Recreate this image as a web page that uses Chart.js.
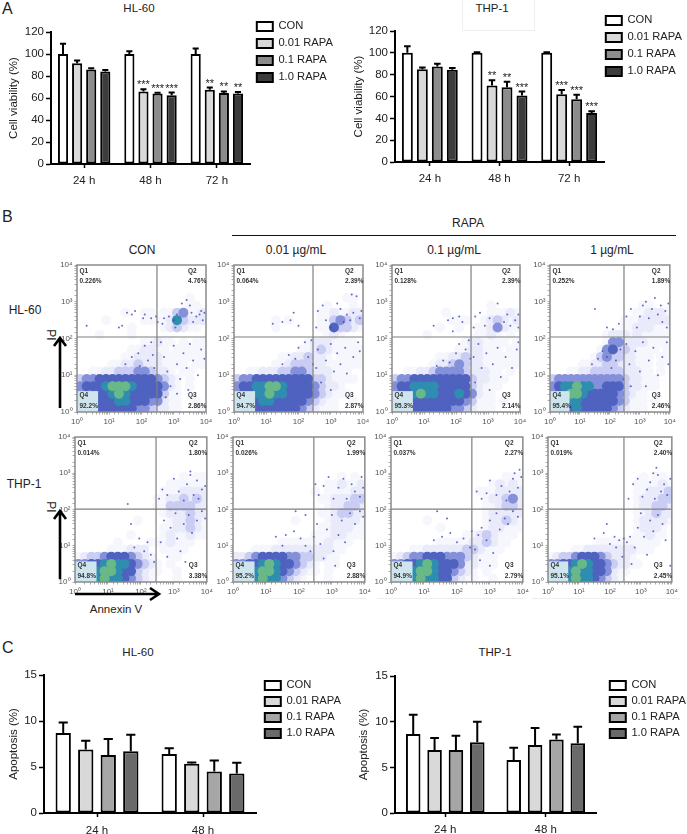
<!DOCTYPE html>
<html>
<head>
<meta charset="utf-8">
<title>RAPA viability and apoptosis</title>
<script src="https://cdn.jsdelivr.net/npm/chart.js@4"></script>
<style>
  body { margin: 0; background: #fff; font-family: "Liberation Sans", Arial, sans-serif; color: #222; }
  #page { position: relative; width: 687px; height: 834px; overflow: hidden; }
  canvas { position: absolute; filter: blur(0.3px); }
  canvas.flow { filter: blur(0.55px); }
  .t { position: absolute; white-space: nowrap; transform: translate(-50%, -50%); font-size: 12px; line-height: 1; }
  .panel { font-size: 16px; transform: none; }
  .faint { position: absolute; background: #eee; }
</style>
</head>
<body>
<div id="page">
  <div class="faint" style="left:462px;top:0;width:1px;height:31px"></div>
  <div class="faint" style="left:534px;top:0;width:1px;height:31px"></div>
  <div class="faint" style="left:462px;top:30px;width:73px;height:1px"></div>
  <div class="faint" style="left:270px;top:598px;width:96px;height:1px"></div>
  <div class="faint" style="left:377px;top:598px;width:146px;height:1px"></div>
  <div class="faint" style="left:532px;top:598px;width:148px;height:1px"></div>

  <div class="t panel" style="left:2px;top:1px">A</div>
  <div class="t panel" style="left:2px;top:209px">B</div>
  <div class="t panel" style="left:2px;top:640px">C</div>

  <div class="t" style="left:139px;top:9px;font-size:11.5px">HL-60</div>
  <div class="t" style="left:492px;top:9px;font-size:11.5px">THP-1</div>
  <div class="t" style="left:138px;top:653px;font-size:11.5px">HL-60</div>
  <div class="t" style="left:495px;top:653px;font-size:11.5px">THP-1</div>

  <div class="t" style="left:468px;top:223px">RAPA</div>
  <div style="position:absolute;left:232px;top:235px;width:444px;height:1px;background:#111"></div>
  <div class="t" style="left:142px;top:250px">CON</div>
  <div class="t" style="left:296px;top:250px">0.01 µg/mL</div>
  <div class="t" style="left:454px;top:250px">0.1 µg/mL</div>
  <div class="t" style="left:612px;top:250px">1 µg/mL</div>
  <div class="t" style="left:25px;top:310px">HL-60</div>
  <div class="t" style="left:24px;top:484px">THP-1</div>
  <div class="t" style="left:51px;top:335px;transform:translate(-50%,-50%) rotate(90deg)">PI</div>
  <div class="t" style="left:51px;top:507px;transform:translate(-50%,-50%) rotate(90deg)">PI</div>
  <div class="t" style="left:116px;top:610px;font-size:11.5px">Annexin V</div>

  <canvas id="viabHL" width="343" height="174" style="left:2px;top:16px"></canvas>
  <canvas id="viabTHP" width="335" height="179" style="left:352px;top:10px"></canvas>
  <canvas id="apoHL" width="340" height="175" style="left:5px;top:659px"></canvas>
  <canvas id="apoTHP" width="333" height="175" style="left:354px;top:660px"></canvas>

  <canvas class="flow" id="f0" width="170" height="175" style="left:47px;top:257px"></canvas>
  <canvas class="flow" id="f1" width="170" height="175" style="left:204px;top:257px"></canvas>
  <canvas class="flow" id="f2" width="170" height="175" style="left:362px;top:257px"></canvas>
  <canvas class="flow" id="f3" width="158" height="175" style="left:520px;top:257px"></canvas>
  <canvas class="flow" id="f4" width="170" height="173" style="left:45px;top:429px"></canvas>
  <canvas class="flow" id="f5" width="170" height="173" style="left:203px;top:429px"></canvas>
  <canvas class="flow" id="f6" width="170" height="173" style="left:361px;top:429px"></canvas>
  <canvas class="flow" id="f7" width="162" height="173" style="left:518px;top:429px"></canvas>

  <svg width="687" height="834" style="position:absolute;left:0;top:0;pointer-events:none" fill="none" stroke="#000" stroke-width="2.6">
    <path d="M60 408V338M54 346L60 338L66 346"/>
    <path d="M60 579V511M54 519L60 511L66 519"/>
    <path d="M75 594H158M150 588L159 594L150 600"/>
  </svg>
</div>

<script>
// series names and group labels
const seriesNames = ['CON', '0.01 RAPA', '0.1 RAPA', '1.0 RAPA'];
const hoursA = ['24 h', '48 h', '72 h'];
const hoursC = ['24 h', '48 h'];
const fillsA = ['#ffffff', '#d9d9d9', '#8c8c8c', '#3c3c3c'];
const fillsC = ['#ffffff', '#d9d9d9', '#a6a6a6', '#6a6a6a'];

// panel A, one row per series, one column per time point
const viabilityHL = [[100, 100, 100], [91.5, 66, 67.5], [86, 64, 64.5], [84, 62.5, 64]];
const viabilityHLTop = [[109.4, 102.5, 105], [94, 68, 69.5], [87, 64.8, 66], [85.5, 65, 65.5]];
const viabilityHLStars = [['', '', ''], ['', '***', '**'], ['', '***', '**'], ['', '***', '**']];
const viabilityTHP = [[100, 100, 100], [85, 70, 62], [87.5, 68.5, 57.5], [84.5, 61, 45]];
const viabilityTHPTop = [[106, 100.5, 100.5], [86.5, 75, 66], [90, 73.5, 61.5], [86, 64.5, 46.5]];
const viabilityTHPStars = [['', '', ''], ['', '**', '***'], ['', '**', '***'], ['', '***', '***']];

// panel C
const apoptosisHL = [[8.7, 6.4], [6.9, 5.35], [6.3, 4.5], [6.7, 4.3]];
const apoptosisHLTop = [[9.85, 7.05], [7.85, 5.5], [8.05, 5.7], [8.5, 5.45]];
const apoptosisTHP = [[8.65, 5.8], [6.9, 7.45], [6.9, 8.05], [7.75, 7.65]];
const apoptosisTHPTop = [[10.75, 7.15], [8.2, 9.3], [8.45, 8.6], [10, 9.45]];

// panel B, quadrant percentages Q1 Q2 Q3 Q4
const quadrants = [
  ['0.226%', '4.76%', '2.86%', '92.2%'],
  ['0.064%', '2.39%', '2.87%', '94.7%'],
  ['0.128%', '2.39%', '2.14%', '95.3%'],
  ['0.252%', '1.89%', '2.46%', '95.4%'],
  ['0.014%', '1.80%', '3.38%', '94.8%'],
  ['0.026%', '1.99%', '2.88%', '95.2%'],
  ['0.037%', '2.27%', '2.79%', '94.9%'],
  ['0.019%', '2.40%', '2.45%', '95.1%']
];
// gate position on each flow panel (Annexin V, PI)
const gateX = [302, 282, 295, 295, 288, 284, 284, 284];
const gateY = [110, 110, 110, 110, 103, 103, 103, 103];
const q4BoxCorner = [4.5, 3.7];
const decadeLabels = { 1: '10⁰', 10: '10¹', 100: '10²', 1000: '10³', 10000: '10⁴' };

// density read per 0.2 decade cell, top row first, 0 empty to 7 hottest
const emptyRows = ['00000000000000000000', '00000000000000000000', '00000000000000000000', '00000000000000000000'];
const density0 = emptyRows.concat([
  '00000000000000000100', '00000000000000000110', '00000001001101134112', '00001000001111263222',
  '00000000100001232110', '00010000100000000000', '00000000001121101011', '00000000112211011111',
  '00000001122221111111', '00000112232221111011', '00112233344322101100', '34455555555543210100',
  '45556777655554210100', '44455676555553110000', '44455566555442110010', '44555555544322110001']);
const density1 = emptyRows.concat([
  '00000000000000000110', '00000000000000100010', '00000000000001121122', '00000010100001134323',
  '00000010000001153321', '00000000000000121000', '00000000000122211110', '00000000001123211111',
  '00000001122322101111', '00000011233322111111', '00112223344322211100', '34455555555533211110',
  '45566776555543221000', '45566766555543211100', '44556655555432110010', '44555555554321110000']);
const density2 = emptyRows.concat([
  '00000000000000000000', '00000000000000010000', '00000000100000011121', '00000000011100123212',
  '00000001001001124211', '00000100000001121010', '00000000000122111101', '00000000001122111011',
  '00000001122322111111', '00000012234322111111', '00112234444322211010', '34455555555532211100',
  '45566665555532111000', '45567665556542110000', '45555555555431110100', '44555555544321110000']);
const density3 = emptyRows.concat([
  '00000000000000000000', '00000000000000011000', '00000000000000112221', '00000000000011122222',
  '00000000000011222111', '00000000012221211111', '00000000014422221111', '00000000145332111101',
  '00000001343322111011', '00000112233222111010', '00011223333322211010', '34444444444432211100',
  '45667664455532211100', '45677655555432110000', '45566555555431110100', '44556555554321110000']);
const density4 = emptyRows.concat([
  '00000000000000000000', '00000000000000001011', '00000000000000111111', '00000000000001112222',
  '00000000000011223232', '00000000000011333322', '00000000000001222322', '00000000010000122321',
  '00000000000001122321', '00000000100001211211', '00000010000111211100', '00000111222001111000',
  '12334555432100110000', '44556766543210100000', '44567765532110010000', '44567665432100010000']);
const density5 = emptyRows.concat([
  '00000000000000000000', '00000000000000001010', '00000000000000112112', '00000000000010111122',
  '00000000000001122233', '00000000000000122332', '00000000000001123322', '00000000010000122221',
  '00000000000001122211', '00000000000011122111', '00000001111111211100', '00011122222222211000',
  '22345555443322110000', '44556765543210110000', '44567765432110100000', '44567664321000100000']);
const density6 = emptyRows.concat([
  '00000000000000000000', '00000000000000000111', '00000000000000012121', '00000000000001112222',
  '00000000000000122342', '00000000000000112332', '00000000000000122222', '00000100000000122321',
  '00000001000000122111', '00000000000112321110', '00000001111122321100', '00011222222332111000',
  '12344555444321110000', '44556765554221110000', '44567765543210100000', '44567665532110010000']);
const density7 = emptyRows.concat([
  '00000000000000000000', '00000000000000010110', '00000000000000111121', '00000000000000112223',
  '00000000000000122233', '00000000000000122332', '00000000000000112322', '00000000000000122221',
  '00000000000000122210', '00000000000000112110', '00000000111111111100', '00001122222222111000',
  '12334555432221000000', '44556765543221100000', '44567665542110000000', '44567665432100000000']);
const densities = [density0, density1, density2, density3, density4, density5, density6, density7];
const levelColours = ['', '#f6f6fd', '#e9eafa', '#c9ccf3', '#8490da', '#4f62bf', '#2f8db0', '#68b888'];
const levelRadius = [0, 5, 5, 5, 5, 5, 5, 5];

// single events picked out of the sparse regions, as [log10 x, log10 y]
const dots0 = [[0.3,2.35],[1.3,2.3],[1.4,2.35],[1.55,2.7],[1.7,2.65],[1.8,2.75],[2.05,2.55],[2.1,2.65],[2.3,2.55],[2.45,2.6],[2.5,2.45],[2.65,2.4],[2.7,2.55],[2.85,2.6],[3.0,2.5],[3.05,2.3],[3.1,2.65],[3.25,2.95],[3.4,3.05],[3.5,2.9],[3.55,2.7],[3.6,2.45],[3.7,2.6],[3.8,2.65],[3.85,2.75],[3.9,2.5],[3.95,2.7],[2.6,1.9],[2.7,1.5],[2.8,1.1],[2.9,0.7],[2.75,0.4],[3.0,1.8],[3.1,1.3],[3.2,0.9],[3.3,1.6],[3.4,1.2],[3.5,1.85],[3.6,1.4],[3.75,1.0],[3.85,1.7],[3.95,1.45],[3.1,0.5],[3.45,0.6],[1.5,1.3],[1.7,1.5],[1.9,1.6],[2.1,1.8],[2.3,1.9],[2.2,1.4],[1.95,1.25],[2.35,1.55],[2.4,1.2]];
const dots1 = [[1.2,2.4],[1.5,2.45],[1.75,2.5],[1.85,2.7],[2.0,2.35],[2.55,2.3],[2.6,2.75],[2.75,2.9],[2.85,2.5],[3.0,2.3],[3.2,2.95],[3.3,2.8],[3.4,2.45],[3.5,2.65],[3.6,2.5],[3.7,2.7],[3.8,3.15],[3.9,2.55],[3.95,2.75],[3.65,3.2],[2.55,1.2],[2.6,1.7],[2.7,0.8],[2.85,1.4],[3.0,1.85],[3.0,0.6],[3.1,1.1],[3.2,1.6],[3.3,1.3],[3.45,1.75],[3.5,1.05],[3.7,1.5],[3.85,1.9],[3.9,1.65],[1.5,1.3],[1.7,1.55],[1.9,1.45],[2.0,1.75],[2.2,1.9],[2.3,1.5],[2.4,1.95],[2.45,1.3]];
const dots2 = [[1.3,2.35],[1.75,2.5],[1.9,2.55],[2.1,2.6],[2.2,2.45],[1.9,2.2],[2.55,2.3],[2.6,2.6],[2.75,2.7],[2.9,2.35],[3.05,2.55],[3.3,2.95],[3.5,2.45],[3.6,2.65],[3.7,2.35],[3.85,2.5],[3.95,2.3],[3.95,2.65],[2.55,1.5],[2.6,0.8],[2.7,1.85],[2.8,1.2],[2.95,1.6],[3.05,0.6],[3.15,1.3],[3.3,1.75],[3.4,0.95],[3.55,1.5],[3.75,1.2],[3.9,1.7],[3.95,1.9],[1.4,1.25],[1.6,1.4],[1.8,1.35],[2.0,1.6],[2.1,1.85],[2.3,1.7],[2.4,1.95],[2.45,1.45]];
const dots3 = [[1.5,2.8],[1.9,2.3],[2.1,2.25],[2.3,2.4],[2.55,2.6],[2.7,2.8],[2.9,2.3],[3.0,2.6],[3.1,2.9],[3.2,3.0],[3.3,2.55],[3.4,2.8],[3.5,3.1],[3.6,2.65],[3.7,2.9],[3.75,2.45],[3.85,2.75],[3.9,2.3],[3.95,2.95],[2.55,1.85],[2.65,1.3],[2.7,0.7],[2.85,1.65],[3.0,1.1],[3.1,1.9],[3.2,0.7],[3.3,1.4],[3.45,1.75],[3.6,1.0],[3.75,1.5],[3.9,1.9],[3.95,1.3],[1.4,1.3],[1.6,1.45],[1.75,1.65],[1.9,1.5],[2.05,1.2],[2.2,1.4],[2.35,1.7],[2.45,0.9]];
const dots4 = [[1.6,2.15],[2.55,2.3],[2.65,2.55],[2.8,2.4],[3.0,2.85],[3.15,2.5],[3.3,2.25],[3.4,2.7],[3.5,2.95],[3.6,2.4],[3.7,2.8],[3.75,2.3],[3.85,2.55],[3.95,2.65],[3.5,3.05],[2.6,1.1],[2.7,1.7],[2.8,0.7],[2.9,1.5],[3.05,1.9],[3.1,1.2],[3.2,0.85],[3.3,1.6],[3.45,1.85],[3.55,1.35],[3.7,1.7],[3.85,1.95],[3.95,1.75],[3.35,0.55],[1.7,1.6],[1.8,0.95],[1.95,1.2],[2.2,1.1],[2.3,0.75],[2.4,0.55],[2.1,0.85]];
const dots5 = [[2.5,2.7],[2.6,2.4],[2.75,2.65],[2.9,2.9],[3.05,2.3],[3.2,2.6],[3.35,2.85],[3.45,2.3],[3.6,2.7],[3.7,2.5],[3.85,2.35],[3.95,2.6],[3.9,2.9],[2.55,1.6],[2.65,1.05],[2.75,0.65],[2.85,1.45],[3.0,1.85],[3.05,0.85],[3.2,1.3],[3.3,1.7],[3.4,1.1],[3.55,1.9],[3.7,1.6],[3.85,1.95],[3.95,1.8],[3.1,0.45],[1.3,1.25],[1.6,1.3],[1.85,1.4],[2.05,1.2],[2.2,1.0],[2.35,0.85],[2.45,1.25],[1.9,1.95],[2.2,1.85],[1.5,1.0]];
const dots6 = [[2.6,2.5],[2.75,2.3],[2.9,2.45],[3.0,2.8],[3.2,2.4],[3.35,2.65],[3.5,2.25],[3.6,2.5],[3.7,2.85],[3.85,2.6],[3.9,3.1],[3.95,2.9],[3.75,3.0],[2.55,0.9],[2.65,1.3],[2.75,1.5],[2.9,1.15],[3.0,1.7],[3.1,0.8],[3.2,1.9],[3.3,1.45],[3.45,1.75],[3.55,1.6],[3.7,1.95],[3.85,1.8],[2.7,0.6],[3.0,0.45],[1.3,1.15],[1.55,1.25],[1.8,1.35],[2.0,1.1],[2.2,1.2],[2.4,0.95],[2.45,1.4],[1.7,1.75],[1.4,1.95]];
const dots7 = [[2.6,2.3],[2.75,2.7],[2.9,2.85],[3.05,2.35],[3.2,2.55],[3.3,2.75],[3.45,2.3],[3.55,2.95],[3.65,2.5],[3.75,2.7],[3.85,2.4],[3.95,2.85],[3.5,3.15],[3.4,3.0],[2.55,1.1],[2.65,1.25],[2.8,0.95],[2.9,1.5],[3.0,1.9],[3.1,1.25],[3.2,0.75],[3.3,1.7],[3.4,1.4],[3.55,1.85],[3.7,1.6],[3.8,1.15],[2.7,0.5],[3.95,0.45],[1.5,1.2],[1.8,1.35],[2.0,1.05],[2.15,1.25],[2.3,1.15],[2.45,1.2],[2.4,0.7],[1.9,1.6],[2.2,0.95]];
const sparseDots = [dots0, dots1, dots2, dots3, dots4, dots5, dots6, dots7];

const FONT = '"Liberation Sans", Arial, sans-serif';

// moves the library's legend to a fixed spot inside the canvas
const placeLegend = {
  id: 'placeLegend',
  beforeDraw(chart, args, opts) {
    const lg = chart.legend;
    lg.left = opts.x;
    lg.top = opts.y;
    lg.right = opts.x + 200;
    lg.bottom = opts.y + 200;
  }
};

// upper error bars and significance stars
const errorBars = {
  id: 'errorBars',
  afterDatasetsDraw(chart) {
    const ctx = chart.ctx;
    const y = chart.scales.y;
    ctx.save();
    chart.data.datasets.forEach(function (ds, i) {
      chart.getDatasetMeta(i).data.forEach(function (bar, j) {
        const top = y.getPixelForValue(ds.errTop[j]);
        const cap = bar.width * 0.3;
        ctx.strokeStyle = '#000';
        ctx.lineWidth = 2;
        ctx.beginPath();
        ctx.moveTo(bar.x, y.getPixelForValue(ds.data[j]));
        ctx.lineTo(bar.x, top);
        ctx.moveTo(bar.x - cap, top);
        ctx.lineTo(bar.x + cap, top);
        ctx.stroke();
        if (ds.stars && ds.stars[j]) {
          ctx.fillStyle = '#222';
          ctx.font = '11px ' + FONT;
          ctx.textAlign = 'center';
          ctx.textBaseline = 'alphabetic';
          ctx.fillText(ds.stars[j], bar.x, top - 1);
        }
      });
    });
    ctx.restore();
  }
};

function barChart(id, cfg) {
  new Chart(document.getElementById(id), {
    type: 'bar',
    plugins: [placeLegend, errorBars],
    data: {
      labels: cfg.labels,
      datasets: seriesNames.map(function (name, i) {
        return {
          label: name,
          data: cfg.values[i],
          errTop: cfg.tops[i],
          stars: cfg.stars ? cfg.stars[i] : null,
          backgroundColor: cfg.fills[i],
          borderColor: '#000',
          borderWidth: 2,
          borderSkipped: false,
          categoryPercentage: cfg.catPct,
          barPercentage: cfg.barPct
        };
      })
    },
    options: {
      responsive: false,
      animation: false,
      events: [],
      layout: { padding: cfg.padding },
      scales: {
        x: {
          afterFit(s) { s.height = cfg.xHeight; },
          grid: { offset: false, drawOnChartArea: false, tickLength: 4, tickColor: '#000', tickWidth: 1.5 },
          border: { color: '#000', width: 2 },
          ticks: { color: '#222', padding: cfg.xPad, font: { family: FONT, size: 11.5 } }
        },
        y: {
          min: 0,
          max: cfg.max,
          afterFit(s) { s.width = cfg.yWidth; },
          grid: { drawOnChartArea: false, tickLength: 5, tickColor: '#000', tickWidth: 1.5 },
          border: { color: '#000', width: 2 },
          ticks: { stepSize: cfg.step, color: '#222', padding: 2, font: { family: FONT, size: 11.5 } },
          title: { display: true, text: cfg.yTitle, color: '#222', padding: { top: cfg.titlePad, bottom: 0 }, font: { family: FONT, size: 11.5 } }
        }
      },
      plugins: {
        title: { display: false },
        tooltip: { enabled: false },
        placeLegend: cfg.legendAt,
        legend: {
          position: 'chartArea',
          align: 'start',
          labels: {
            boxWidth: 16,
            boxHeight: 9,
            padding: cfg.legendPad,
            color: '#222',
            font: { family: FONT, size: 11.2 }
          }
        }
      }
    }
  });
}

barChart('viabHL', {
  labels: hoursA, values: viabilityHL, tops: viabilityHLTop, stars: viabilityHLStars, fills: fillsA,
  max: 120, step: 20, yTitle: 'Cell viability (%)', yWidth: 49, xHeight: 26, xPad: 6, titlePad: 5,
  padding: { top: 16, right: 95 }, catPct: 0.85, barPct: 0.72, legendPad: 5.8, legendAt: { x: 249, y: -1 }
});
barChart('viabTHP', {
  labels: hoursA, values: viabilityTHP, tops: viabilityTHPTop, stars: viabilityTHPStars, fills: fillsA,
  max: 120, step: 20, yTitle: 'Cell viability (%)', yWidth: 43, xHeight: 27, xPad: 6, titlePad: 0,
  padding: { top: 21, right: 83 }, catPct: 0.86, barPct: 0.73, legendPad: 5.8, legendAt: { x: 248, y: -1 }
});
barChart('apoHL', {
  labels: hoursC, values: apoptosisHL, tops: apoptosisHLTop, fills: fillsC,
  max: 15, step: 5, yTitle: 'Apoptosis (%)', yWidth: 39, xHeight: 21, xPad: 7, titlePad: 2,
  padding: { top: 16, right: 89 }, catPct: 0.85, barPct: 0.68, legendPad: 4.8, legendAt: { x: 255, y: 16 }
});
barChart('apoTHP', {
  labels: hoursC, values: apoptosisTHP, tops: apoptosisTHPTop, fills: fillsC,
  max: 15, step: 5, yTitle: 'Apoptosis (%)', yWidth: 41, xHeight: 22, xPad: 6, titlePad: 3,
  padding: { top: 16, right: 91 }, catPct: 0.85, barPct: 0.68, legendPad: 4.8, legendAt: { x: 251, y: 15 }
});

// frame, blue Q4 patch and quadrant captions of a flow panel
const flowDecor = {
  id: 'flowDecor',
  afterDatasetsDraw(chart, args, opts) {
    const ctx = chart.ctx;
    const a = chart.chartArea;
    const bx = chart.scales.x.getPixelForValue(q4BoxCorner[0]);
    const by = chart.scales.y.getPixelForValue(q4BoxCorner[1]);
    ctx.save();
    ctx.fillStyle = '#cfe5ee';
    ctx.fillRect(a.left, by, bx - a.left, a.bottom - by);
    ctx.strokeStyle = '#8a8a8a';
    ctx.lineWidth = 1.5;
    ctx.strokeRect(a.left, a.top, a.right - a.left, a.bottom - a.top);
    ctx.fillStyle = '#333';
    ctx.font = 'bold 6.5px ' + FONT;
    ctx.textBaseline = 'middle';
    const left = a.left + 2.5;
    const right = a.right - 18;
    ctx.fillText('Q1', left, a.top + 6);
    ctx.fillText(opts.q[0], left, a.top + 16);
    ctx.fillText('Q2', right, a.top + 6);
    ctx.fillText(opts.q[1], right, a.top + 16);
    ctx.fillText('Q3', right, a.bottom - 17);
    ctx.fillText(opts.q[2], right, a.bottom - 6);
    ctx.fillText('Q4', left, a.bottom - 17);
    ctx.fillText(opts.q[3], left, a.bottom - 6);
    ctx.restore();
  }
};

function cellPoints(rows, level) {
  const pts = [];
  rows.forEach(function (row, r) {
    for (let c = 0; c < row.length; c++) {
      if (Number(row[c]) === level) {
        pts.push({ x: Math.pow(10, (c + 0.5) / 5), y: Math.pow(10, 4 - (r + 0.5) / 5) });
      }
    }
  });
  return pts;
}

function flowChart(i, pad, xHeight, yWidth) {
  const sets = [];
  for (let level = 1; level <= 7; level++) {
    sets.push({
      label: 'density ' + level,
      data: cellPoints(densities[i], level),
      backgroundColor: levelColours[level],
      pointRadius: levelRadius[level],
      borderWidth: 0,
      order: 9 - level
    });
  }
  sets.push({
    label: 'events',
    data: sparseDots[i].map(function (d) { return { x: Math.pow(10, d[0]), y: Math.pow(10, d[1]) }; }),
    backgroundColor: 'rgba(70,70,190,0.8)',
    pointRadius: 1,
    borderWidth: 0,
    order: 1
  });
  sets.push({
    label: 'gate x',
    data: [{ x: gateX[i], y: 1 }, { x: gateX[i], y: 10000 }],
    showLine: true, borderColor: '#7f7f7f', borderWidth: 1.2, pointRadius: 0, order: 0
  });
  sets.push({
    label: 'gate y',
    data: [{ x: 1, y: gateY[i] }, { x: 10000, y: gateY[i] }],
    showLine: true, borderColor: '#7f7f7f', borderWidth: 1.2, pointRadius: 0, order: 0
  });
  const tickLabel = function (v) { return decadeLabels[v] || ''; };
  const tickOpts = { callback: tickLabel, color: '#555', autoSkip: false, maxRotation: 0, padding: 2, font: { family: FONT, size: 8 } };
  const gridOpts = { drawOnChartArea: false, tickLength: 2.5, tickColor: '#888', tickWidth: 0.7 };
  new Chart(document.getElementById('f' + i), {
    type: 'scatter',
    plugins: [flowDecor],
    data: { datasets: sets },
    options: {
      responsive: false,
      animation: false,
      events: [],
      clip: true,
      layout: { padding: pad },
      scales: {
        x: { type: 'logarithmic', min: 1, max: 10000, afterFit(s) { s.height = xHeight; }, grid: gridOpts, border: { display: false }, ticks: tickOpts },
        y: { type: 'logarithmic', min: 1, max: 10000, afterFit(s) { s.width = yWidth; }, grid: gridOpts, border: { display: false }, ticks: tickOpts }
      },
      plugins: { legend: { display: false }, tooltip: { enabled: false }, flowDecor: { q: quadrants[i] } }
    }
  });
}

// plot boxes: row 1 y 265-412, row 2 y 437-582
flowChart(0, { top: 8, right: 11 }, 20, 30);
flowChart(1, { top: 8, right: 11 }, 20, 30);
flowChart(2, { top: 8, right: 12 }, 20, 30);
flowChart(3, { top: 8, right: 0 }, 20, 30);
flowChart(4, { top: 8, right: 7 }, 20, 30);
flowChart(5, { top: 8, right: 8 }, 20, 30);
flowChart(6, { top: 8, right: 8 }, 20, 30);
flowChart(7, { top: 8, right: 0 }, 20, 30);
</script>
</body>
</html>
